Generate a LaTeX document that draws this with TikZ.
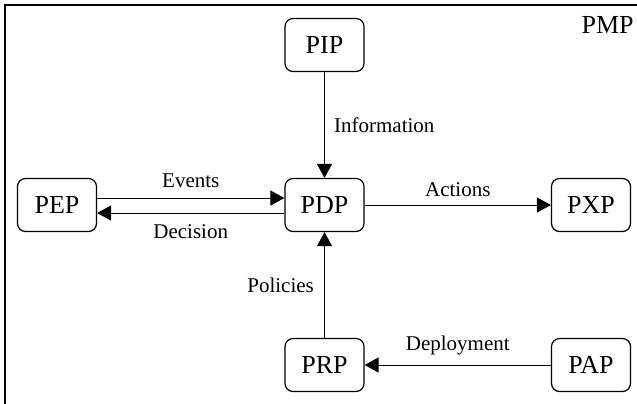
\documentclass[tikz,border=0pt]{standalone}
\usepackage{fontspec}
\setmainfont{Liberation Serif}
\usetikzlibrary{arrows.meta,positioning}

\begin{document}
\begin{tikzpicture}[x=0.5pt,y=-0.5pt,
  pbox/.style={draw,line width=0.6pt,rounded corners=4pt,minimum width=39.5pt,minimum height=26.5pt,inner sep=0pt,font=\fontsize{13}{15}\selectfont},
  flow/.style={-{Triangle[length=7pt,width=7.5pt]},line width=0.5pt},
  lbl/.style={font=\fontsize{10.5}{12}\selectfont}]
\useasboundingbox (0,0) rectangle (637,403);
% outer frame runs past the right and bottom edges
\draw[line width=0.7pt] (5,5) rectangle (660,430);
\node[anchor=base east,inner sep=0pt,font=\fontsize{13}{15}\selectfont] (pmp) at (634,33) {PMP};

\node[pbox] (pip) at (324.5,45) {PIP};
\node[pbox] (pep) at (57,205) {PEP};
\node[pbox] (pdp) at (324.5,205) {PDP};
\node[pbox] (pxp) at (591,205) {PXP};
\node[pbox] (prp) at (324.5,365) {PRP};
\node[pbox] (pap) at (591,365) {PAP};

\draw[flow] (pip) -- (pdp) node[lbl,midway,right=1.25pt] {Information};
\draw[flow] ([yshift=3.5pt]pep.east) -- ([yshift=3.5pt]pdp.west) node[lbl,midway,above=1.5pt] {Events};
\draw[flow] ([yshift=-4pt]pdp.west) -- ([yshift=-4pt]pep.east) node[lbl,midway,below=2pt] {Decision};
\draw[flow] (pdp) -- (pxp) node[lbl,midway,above=0.5pt] {Actions};
\draw[flow] (prp) -- (pdp) node[lbl,midway,left=1.75pt] {Policies};
\draw[flow] (pap) -- (prp) node[lbl,midway,above=1.2pt] {Deployment};
\end{tikzpicture}
\end{document}
